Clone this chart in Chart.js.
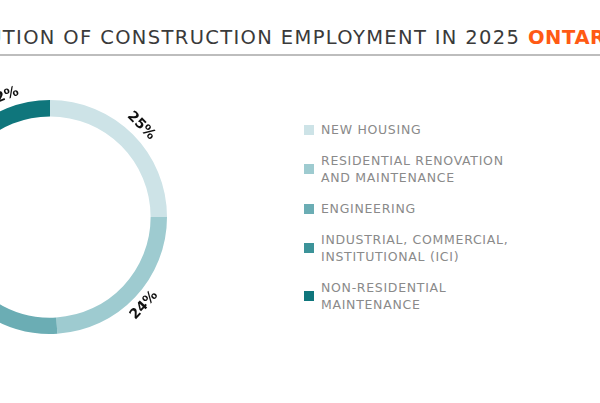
<!DOCTYPE html>
<html>
<head>
<meta charset="utf-8">
<script src="https://cdn.jsdelivr.net/npm/chart.js@4.4.1/dist/chart.umd.min.js"></script>
<style>
  html, body { margin: 0; padding: 0; background: #fff; overflow: hidden; }
  body { width: 600px; height: 403px; position: relative; font-family: "DejaVu Sans", sans-serif; }
  .title {
    position: absolute; top: 26px; left: 0; white-space: nowrap;
    font-size: 19.5px; color: #3a3a3a; font-weight: normal; line-height: 24px; letter-spacing: 1.35px;
  }
  .title .hl { color: #ff5a14; font-weight: bold; letter-spacing: 0.6px; }
  .rule { position: absolute; left: 0; top: 54px; width: 600px; height: 2px; background: #bdbdbd; }
  .chart-box { position: absolute; left: -100px; top: 67px; width: 300px; height: 300px; }
  .legend { position: absolute; left: 304px; top: 121px; width: 280px; }
  .legend-item { display: flex; align-items: center; margin-bottom: 14px; }
  .legend-item .sw { width: 10px; height: 10px; flex: none; margin-right: 7px; }
  .legend-item .txt { font-size: 12.5px; line-height: 17px; color: #8a8a8a; letter-spacing: 0.7px; }
</style>
</head>
<body>
<div class="title" id="title">DISTRIBUTION OF CONSTRUCTION EMPLOYMENT IN 2025 <span class="hl" id="hl">ONTARIO</span></div>
<div class="rule"></div>
<div class="chart-box"><canvas id="donut"></canvas></div>
<div class="legend" id="legend"></div>

<script>
// ---- DATA ----
const sectors = [
  ['NEW HOUSING'],
  ['RESIDENTIAL RENOVATION', 'AND MAINTENANCE'],
  ['ENGINEERING'],
  ['INDUSTRIAL, COMMERCIAL,', 'INSTITUTIONAL (ICI)'],
  ['NON-RESIDENTIAL', 'MAINTENANCE']
];
const shares = [25, 24, 20, 19, 12];
const sectorColors = ['#cde3e7', '#9ecbd0', '#6badb4', '#3c9399', '#0f767c'];

// ---- TITLE: crop like the reference (ONTARIO starts near the right edge) ----
const title = document.getElementById('title');
const hl = document.getElementById('hl');
title.style.left = (528 - hl.offsetLeft) + 'px';

// ---- LEGEND ----
document.getElementById('legend').innerHTML = sectors.map((lines, i) => `
  <div class="legend-item">
    <span class="sw" style="background:${sectorColors[i]}"></span>
    <span class="txt">${lines.join('<br>')}</span>
  </div>`).join('');

// ---- PERCENT LABELS (rotated along the ring) ----
const ringLabels = {
  id: 'ringLabels',
  afterDatasetsDraw(chart) {
    const ctx = chart.ctx;
    const meta = chart.getDatasetMeta(0);
    ctx.save();
    ctx.font = 'bold 14px "DejaVu Sans", sans-serif';
    ctx.fillStyle = '#111';
    ctx.textAlign = 'center';
    ctx.textBaseline = 'middle';
    meta.data.forEach((arc, i) => {
      const p = arc.getProps(['x', 'y', 'startAngle', 'endAngle', 'outerRadius'], true);
      const mid = (p.startAngle + p.endAngle) / 2;
      const r = p.outerRadius + 12;
      const x = p.x + Math.cos(mid) * r;
      const y = p.y + Math.sin(mid) * r;
      let rot = mid + Math.PI / 2;
      while (rot > Math.PI) rot -= 2 * Math.PI;
      while (rot < -Math.PI) rot += 2 * Math.PI;
      if (rot > Math.PI / 2) rot -= Math.PI;
      if (rot < -Math.PI / 2) rot += Math.PI;
      ctx.save();
      ctx.translate(x, y);
      ctx.rotate(rot);
      ctx.fillText(shares[i] + '%', 0, 0);
      ctx.restore();
    });
    ctx.restore();
  }
};

new Chart(document.getElementById('donut'), {
  type: 'doughnut',
  data: {
    labels: sectors.map(l => l.join(' ')),
    datasets: [{
      data: shares,
      backgroundColor: sectorColors,
      borderWidth: 0
    }]
  },
  options: {
    responsive: true,
    maintainAspectRatio: false,
    animation: false,
    cutout: '86%',
    layout: { padding: 33 },
    plugins: {
      legend: { display: false },
      tooltip: { enabled: false }
    }
  },
  plugins: [ringLabels]
});
</script>
</body>
</html>
